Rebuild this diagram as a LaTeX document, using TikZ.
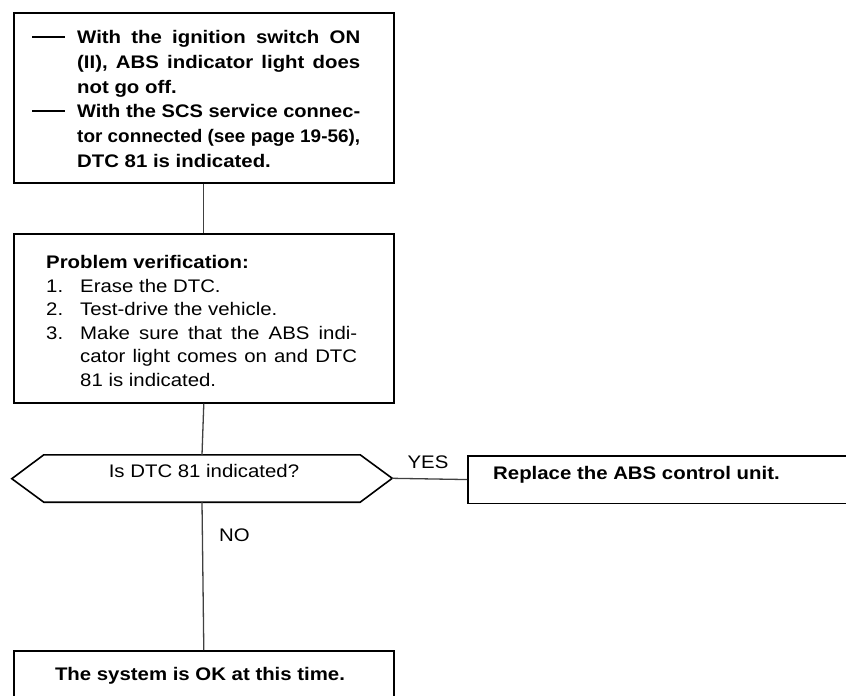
\documentclass[tikz,border=0pt]{standalone}
\usepackage{fontspec}
\setmainfont{Liberation Sans}[FakeStretch=1.12]
\usepackage{graphicx}
\newcommand\jline[2]{\sbox0{#2}\ifdim\wd0>#1\relax\resizebox{#1}{\height}{#2}\else\makebox[#1][s]{#2}\fi}
\begin{document}
\begin{tikzpicture}[x=1pt,y=-1pt,
  txt/.style={anchor=base west, inner sep=0, font=\fontsize{18.2}{24.8}\selectfont},
  btxt/.style={txt, font=\fontsize{18.2}{24.8}\selectfont\bfseries},
  frame/.style={draw, line width=1.6pt, inner sep=0, anchor=north west},
  conn/.style={draw, line width=1.3pt, black!75},
  dashbar/.style={anchor=base west, inner sep=0}]
\useasboundingbox (0,0) rectangle (846,696);
\clip (0,0) rectangle (846,696);
% boxes
\node[frame, minimum width=380pt, minimum height=170pt] (b1) at (13,12) {};
\node[frame, minimum width=380pt, minimum height=169pt] (b2) at (13,233) {};
\node[frame, minimum width=420pt, minimum height=47.5pt] (b3) at (467,455) {};
\node[frame, minimum width=380pt, minimum height=80pt] (b4) at (13,650) {};
% decision
\node[inner sep=0, minimum width=316pt, minimum height=47pt] (q) at (202,478.5) {};
\draw[line width=1.6pt] (q.north west) -- (q.north east) -- ++(32,23.5) coordinate (qtip)
  -- (q.south east) -- (q.south west) -- ++(-32,-23.5) -- cycle;
% connectors
\draw[conn] (b1.south) -- (b2.north);
\draw[conn] (b2.south) -- (q.north);
\draw[conn] (q.south) -- (b4.north);
\draw[conn] (qtip) -- (b3.west);
% box 1 text
\node[dashbar] (d1) at (32,43) {\rule[5pt]{33pt}{1.9pt}};
\node[btxt] (t1) at (77,43) {\jline{283pt}{With the ignition switch ON}};
\node[btxt] (t2) at (77,68) {\jline{283pt}{(II), ABS indicator light does}};
\node[btxt] (t3) at (77,93) {not go off.};
\node[dashbar] (d2) at (32,117) {\rule[5pt]{33pt}{1.9pt}};
\node[btxt] (t4) at (77,117) {\jline{283pt}{With the SCS service connec-}};
\node[btxt] (t5) at (77,142) {\jline{283pt}{tor connected (see page 19-56),}};
\node[btxt] (t6) at (77,167) {DTC 81 is indicated.};
% box 2 text
\node[btxt] (p0) at (46,268) {Problem verification:};
\node[txt] (n1) at (46,292) {1.};
\node[txt] (p1) at (80,292) {Erase the DTC.};
\node[txt] (n2) at (46,315.5) {2.};
\node[txt] (p2) at (80,315.5) {Test-drive the vehicle.};
\node[txt] (n3) at (46,339) {3.};
\node[txt] (p3) at (80,339) {\jline{277pt}{Make sure that the ABS indi-}};
\node[txt] (p4) at (80,362.5) {\jline{277pt}{cator light comes on and DTC}};
\node[txt] (p5) at (80,386) {81 is indicated.};
% decision text and labels
\node[txt, anchor=base] (qt) at (204,477) {Is DTC 81 indicated?};
\node[txt, anchor=base] (yes) at (428,468) {YES};
\node[txt] (no) at (219,541) {NO};
\node[btxt] (r) at (493,479) {Replace the ABS control unit.};
\node[btxt, anchor=base] (ok) at (200,680) {The system is OK at this time.};
\end{tikzpicture}
\end{document}
